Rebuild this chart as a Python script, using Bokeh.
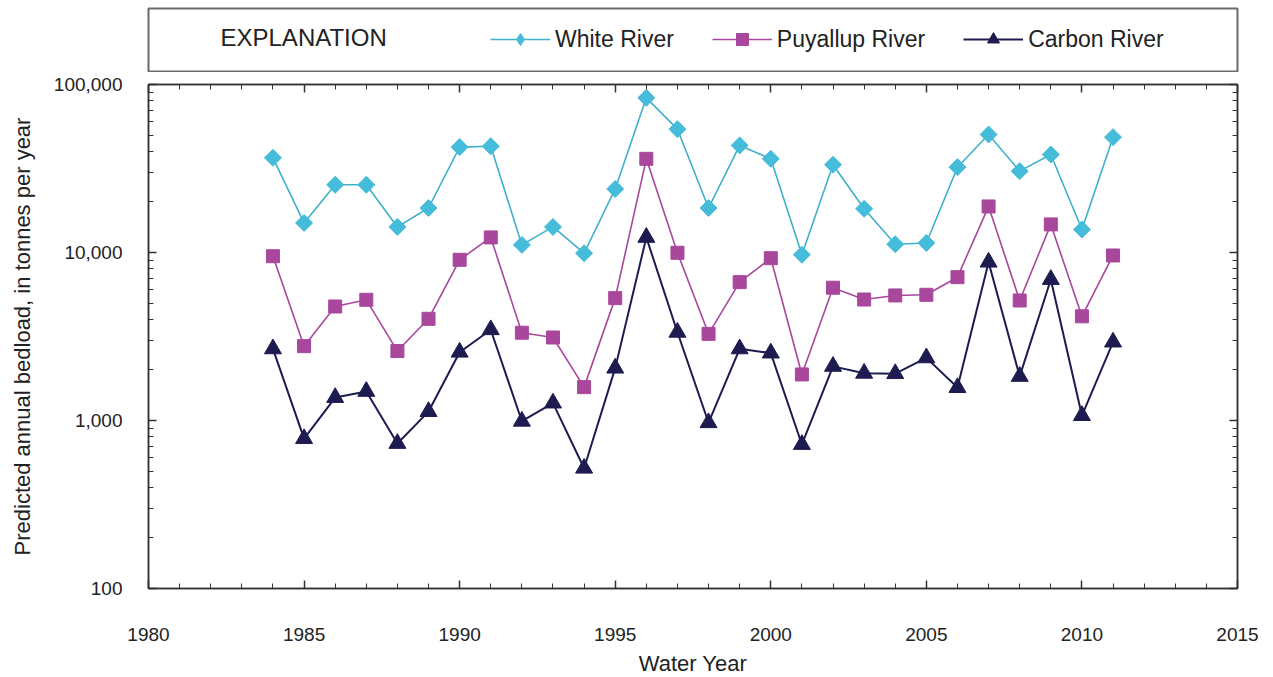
from bokeh.plotting import figure
from bokeh.models import (FixedTicker, LinearAxis, LogAxis, NumeralTickFormatter,
                          Legend, LegendItem, Label, Range1d)
from bokeh.layouts import column
from bokeh.embed import file_html
from bokeh.resources import INLINE

# ---------------- data ----------------
years = list(range(1984, 2012))
white_river = [36600, 15000, 25300, 25300, 14200, 18400, 42400, 42900, 11100, 14200,
               9900, 23900, 83300, 54200, 18400, 43400, 36100, 9700, 33300, 18200,
               11200, 11400, 32200, 50400, 30500, 38300, 13700, 48600]
puyallup_river = [9500, 2770, 4770, 5230, 2590, 4030, 9050, 12300, 3330, 3120,
                  1580, 5350, 36100, 9960, 3280, 6660, 9250, 1880, 6170, 5250,
                  5550, 5600, 7130, 18800, 5180, 14700, 4170, 9600]
carbon_river = [2670, 780, 1370, 1490, 730, 1130, 2550, 3470, 990, 1270,
                520, 2050, 12300, 3350, 970, 2670, 2520, 720, 2100, 1910,
                1900, 2360, 1570, 8760, 1830, 6910, 1070, 2930]
series_names = ["White River", "Puyallup River", "Carbon River"]
x_tick_labels = [1980, 1985, 1990, 1995, 2000, 2005, 2010, 2015]
x_minor = list(range(1980, 2016))
y_tick_labels = [100, 1000, 10000, 100000]
y_minor = [m * d for d in [100, 1000, 10000] for m in range(2, 10)]

FONT = "Liberation Sans"
WHITE_C = "#45BCD9"
WHITE_L = "#3FB0CA"
PUY_C = "#A8479C"
CARB_C = "#1E1B50"
FRAME_C = "#333333"

# ---------------- main plot ----------------
p = figure(frame_width=1089, frame_height=504,
           min_border_left=148, min_border_right=28, min_border_top=12, min_border_bottom=85,
           x_range=Range1d(1980, 2015), y_range=Range1d(100, 100000),
           y_axis_type="log", output_backend="svg", toolbar_location=None,
           background_fill_color="white", border_fill_color="white")
p.grid.visible = False
p.outline_line_color = FRAME_C
p.outline_line_width = 1.5

# (values, line colour, marker colour, marker, size, angle, line width, legend marker, legend size)
styles = [
    (white_river, WHITE_L, WHITE_C, "square", 12, 0.785398, 1.6, "diamond", 16),
    (puyallup_river, PUY_C, PUY_C, "square", 13, 0.0, 1.6, "square", 11),
    (carbon_river, CARB_C, CARB_C, "triangle", 17, 0.0, 2.0, "triangle", 13),
]
for vals, lc, mc, mk, sz, ang, lw, _, _ in styles:
    p.line(years, vals, line_color=lc, line_width=lw)
    p.scatter(years, vals, marker=mk, size=sz, angle=ang, fill_color=mc, line_color=mc)

def style_axis(ax):
    ax.axis_line_color = FRAME_C
    ax.axis_line_width = 1.5
    ax.major_tick_line_color = FRAME_C
    ax.minor_tick_line_color = FRAME_C
    ax.major_tick_line_width = 1.5
    ax.minor_tick_line_width = 1
    ax.major_tick_in = 8
    ax.major_tick_out = 0
    ax.minor_tick_in = 5
    ax.minor_tick_out = 0

xt = FixedTicker(ticks=x_tick_labels, minor_ticks=x_minor)
yt = FixedTicker(ticks=y_tick_labels, minor_ticks=y_minor)

xa = p.xaxis[0]
xa.ticker = xt
xa.formatter = NumeralTickFormatter(format="0")
xa.axis_label = "Water Year"
xa.major_label_standoff = 39
xa.axis_label_standoff = 7
xa.major_label_text_font = FONT
xa.major_label_text_font_size = "19px"
xa.axis_label_text_font = FONT
xa.axis_label_text_font_size = "22px"
xa.axis_label_text_font_style = "normal"
xa.major_label_text_color = "#222"
xa.axis_label_text_color = "#222"
style_axis(xa)

ya = p.yaxis[0]
ya.ticker = yt
ya.formatter = NumeralTickFormatter(format="0,0")
ya.axis_label = "Predicted annual bedload, in tonnes per year"
ya.major_label_standoff = 26
ya.axis_label_standoff = 16
ya.major_label_text_font = FONT
ya.major_label_text_font_size = "19px"
ya.axis_label_text_font = FONT
ya.axis_label_text_font_size = "22px"
ya.axis_label_text_font_style = "normal"
ya.major_label_text_color = "#222"
ya.axis_label_text_color = "#222"
style_axis(ya)

top_ax = LinearAxis(ticker=FixedTicker(ticks=x_tick_labels, minor_ticks=x_minor),
                    major_label_text_font_size="1px", major_label_text_color=None,
                    major_label_standoff=0)
style_axis(top_ax)
p.add_layout(top_ax, "above")

right_ax = LogAxis(ticker=FixedTicker(ticks=y_tick_labels, minor_ticks=y_minor),
                   major_label_text_font_size="1px", major_label_text_color=None,
                   major_label_standoff=0)
style_axis(right_ax)
p.add_layout(right_ax, "right")

# ---------------- explanation box ----------------
leg = figure(frame_width=1089, frame_height=64,
             min_border_left=148, min_border_right=28, min_border_top=8, min_border_bottom=0,
             x_range=Range1d(0, 1089), y_range=Range1d(0, 64),
             x_axis_location=None, y_axis_location=None,
             output_backend="svg", toolbar_location=None,
             background_fill_color="white", border_fill_color="white")
leg.grid.visible = False
leg.outline_line_color = "#6a6a6a"
leg.outline_line_width = 2

items = []
for name, (vals, lc, mc, mk, sz, ang, lw, lmk, lsz) in zip(series_names, styles):
    # same series drawn here only so the legend has renderers; they fall outside this box's range
    r1 = leg.line(years, vals, line_color=lc, line_width=lw)
    r2 = leg.scatter(years, vals, marker=lmk, size=lsz, fill_color=mc, line_color=mc)
    items.append(LegendItem(label=name, renderers=[r1, r2]))

legend = Legend(items=items, orientation="horizontal", location=(342, 18),
                glyph_width=60, glyph_height=30, label_standoff=5, spacing=38,
                padding=0, margin=0, border_line_color=None, background_fill_alpha=0,
                label_text_font=FONT, label_text_font_size="23px", label_text_color="#222")
leg.add_layout(legend, "center")

leg.add_layout(Label(x=72, y=35, text="EXPLANATION", text_font=FONT, text_font_size="24px",
                     text_baseline="middle", text_color="#222"))

layout = column(leg, p, spacing=0)
open("out.html", "w").write(file_html(layout, INLINE))
